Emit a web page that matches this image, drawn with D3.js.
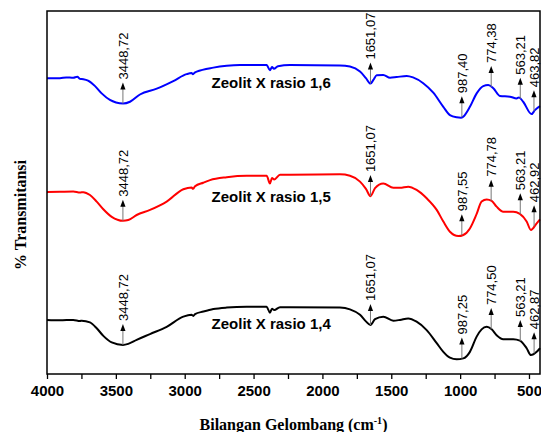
<!DOCTYPE html>
<html><head><meta charset="utf-8">
<script src="https://cdn.jsdelivr.net/npm/d3@7"></script>
<style>body{margin:0;background:#fff}</style>
</head><body>
<svg id="chart" width="541" height="432"></svg>
<script>
// ---- DATA ----
const seriesNames = ["Zeolit X rasio 1,6", "Zeolit X rasio 1,5", "Zeolit X rasio 1,4"];
const xTicks = [4000, 3500, 3000, 2500, 2000, 1500, 1000, 500];

const spectrum16 = [[4000,81.5],[3906,81.5],[3860,81.7],[3809,81.6],[3780,81.9],[3760,81.3],[3736,81.2],[3702,80.8],[3651,79.3],[3603,77.3],[3543,75.5],[3499,74.8],[3448,74.5],[3397,75.0],[3325,77.0],[3203,78.6],[3083,80.7],[2986,82.6],[2950,82.9],[2940,82.6],[2925,83.1],[2913,83.3],[2792,84.4],[2695,84.9],[2599,85.1],[2405,85.1],[2381,83.7],[2366,84.6],[2352,84.1],[2323,84.8],[2236,85.1],[1873,85.0],[1800,84.7],[1727,83.3],[1684,81.5],[1651,80.0],[1630,81.0],[1606,82.3],[1558,82.4],[1509,81.6],[1461,81.8],[1388,82.1],[1342,81.7],[1268,80.1],[1195,77.5],[1122,73.6],[1074,71.3],[1025,70.7],[994,70.6],[977,70.9],[929,73.6],[880,77.3],[832,79.3],[796,79.6],[759,78.7],[711,76.6],[638,76.4],[590,75.9],[573,76.2],[542,75.0],[481,71.6],[457,72.7],[420,73.8]];

const spectrum15 = [[4000,50.1],[3906,50.2],[3809,50.3],[3760,50.0],[3736,50.1],[3688,49.3],[3639,47.5],[3591,45.4],[3530,43.3],[3448,42.2],[3410,42.4],[3349,43.8],[3252,45.2],[3131,47.5],[3010,50.9],[2950,51.4],[2940,51.0],[2925,51.7],[2865,52.7],[2816,53.4],[2695,54.2],[2550,54.6],[2405,54.6],[2381,52.5],[2366,54.0],[2350,53.6],[2308,54.9],[2236,54.9],[1873,55.0],[1800,54.6],[1727,53.0],[1684,51.0],[1651,49.0],[1618,51.2],[1558,52.5],[1485,51.3],[1437,51.3],[1377,51.6],[1316,50.7],[1243,48.4],[1170,45.2],[1122,42.0],[1074,39.2],[1013,38.0],[977,38.3],[929,40.1],[880,44.1],[844,47.5],[807,48.1],[771,47.7],[735,46.1],[687,44.7],[614,44.7],[566,44.1],[517,42.0],[486,39.7],[444,41.5],[420,42.6]];

const spectrum14 = [[4000,14.9],[3906,14.8],[3809,14.9],[3760,14.6],[3748,14.7],[3688,14.2],[3639,12.6],[3591,10.5],[3530,8.7],[3448,8.0],[3410,8.3],[3349,9.4],[3252,11.0],[3131,13.0],[3010,15.8],[2950,16.3],[2938,16.0],[2925,16.5],[2865,17.2],[2792,17.9],[2695,18.3],[2550,18.5],[2405,18.5],[2381,16.9],[2366,18.0],[2350,17.6],[2308,18.4],[2236,18.4],[1873,18.3],[1800,17.8],[1727,16.3],[1684,14.5],[1651,13.5],[1618,15.1],[1558,15.8],[1485,14.7],[1437,14.9],[1377,15.3],[1316,14.4],[1243,12.1],[1170,8.5],[1122,6.1],[1074,4.5],[1025,4.05],[977,4.3],[929,6.1],[880,10.3],[844,12.3],[807,13.0],[771,12.3],[735,10.7],[687,9.6],[614,9.6],[566,9.2],[517,7.1],[486,5.2],[444,6.1],[420,7.1]];

const peaks16 = ["3448,72","1651,07","987,40","774,38","563,21","463,82"];
const peaks15 = ["3448,72","1651,07","987,55","774,78","563,21","462,92"];
const peaks14 = ["3448,72","1651,07","987,25","774,50","563,21","462,87"];

const colors = ["#0000ff", "#ff0000", "#000000"];

// ---- CHART ----
const svg = d3.select("#chart");
const L = 47, T = 11, R = 540, B = 374;
const x = d3.scaleLinear().domain([4000, 420]).range([L, R]);
const y = d3.scaleLinear().domain([0, 100]).range([B, T]);

const series = [
  {name: seriesNames[0], data: spectrum16, peaks: peaks16, color: colors[0]},
  {name: seriesNames[1], data: spectrum15, peaks: peaks15, color: colors[1]},
  {name: seriesNames[2], data: spectrum14, peaks: peaks14, color: colors[2]}
];

const line = d3.line().x(d => x(d[0])).y(d => y(d[1])).curve(d3.curveMonotoneX);

function valueAt(data, wn) {
  for (let i = 0; i < data.length - 1; i++) {
    const a = data[i], b = data[i + 1];
    if (wn <= a[0] && wn >= b[0]) {
      const t = (a[0] - wn) / (a[0] - b[0]);
      return a[1] + t * (b[1] - a[1]);
    }
  }
  return data[data.length - 1][1];
}

// x axis
const minor = d3.range(4000, 419, -250);
const xAxis = d3.axisBottom(x).tickValues(minor).tickSize(5).tickPadding(6)
  .tickFormat(d => xTicks.includes(d) ? d : "");
const gx = svg.append("g").attr("transform", `translate(0,${B})`).call(xAxis);
gx.select(".domain").remove();
gx.selectAll(".tick line").attr("stroke", "#000").attr("stroke-width", 1.3);
gx.selectAll(".tick text").attr("fill", "#000")
  .style("font-family", "Arial, 'Liberation Sans', sans-serif")
  .style("font-weight", "bold").style("font-size", "15px");

// curves
series.forEach(s => {
  svg.append("path").datum(s.data).attr("d", line)
    .attr("fill", "none").attr("stroke", s.color).attr("stroke-width", 2);

  svg.append("text").attr("x", x(2805)).attr("y", y(s.data[0][1]) + 9.5)
    .text(s.name)
    .style("font-family", "Arial, 'Liberation Sans', sans-serif")
    .style("font-weight", "bold").style("font-size", "15px").attr("fill", "#000");

  s.peaks.forEach(p => {
    const wn = parseFloat(p.replace(",", "."));
    const px = x(wn);
    const y0 = y(valueAt(s.data, wn));
    const tip = y0 - 21;
    const g = svg.append("g");
    g.append("line").attr("x1", px).attr("x2", px).attr("y1", y0).attr("y2", tip + 5)
      .attr("stroke", "#777").attr("stroke-width", 1);
    g.append("path").attr("d", `M${px},${tip}L${px - 2.6},${tip + 7}L${px + 2.6},${tip + 7}Z`)
      .attr("fill", "#000");
    g.append("text").attr("transform", `translate(${px + 5},${tip - 3}) rotate(-90)`)
      .text(p)
      .style("font-family", "Arial, 'Liberation Sans', sans-serif")
      .style("font-size", "13px").attr("fill", "#000");
  });
});

// frame
svg.append("rect").attr("x", L).attr("y", T).attr("width", R - L).attr("height", B - T)
  .attr("fill", "none").attr("stroke", "#000").attr("stroke-width", 1.5);

// axis titles
const xt = svg.append("text").attr("x", (L + R) / 2).attr("y", 430).attr("text-anchor", "middle")
  .style("font-family", "'Times New Roman', 'Liberation Serif', serif")
  .style("font-weight", "bold").style("font-size", "16px").attr("fill", "#000");
xt.append("tspan").text("Bilangan Gelombang (cm");
xt.append("tspan").attr("dy", -6).style("font-size", "10px").text("-1");
xt.append("tspan").attr("dy", 6).text(")");

svg.append("text").attr("transform", "translate(26,215) rotate(-90)").attr("text-anchor", "middle")
  .style("font-family", "'Times New Roman', 'Liberation Serif', serif")
  .style("font-weight", "bold").style("font-size", "16px").attr("fill", "#000")
  .text("% Transmitansi");
</script>
</body></html>
